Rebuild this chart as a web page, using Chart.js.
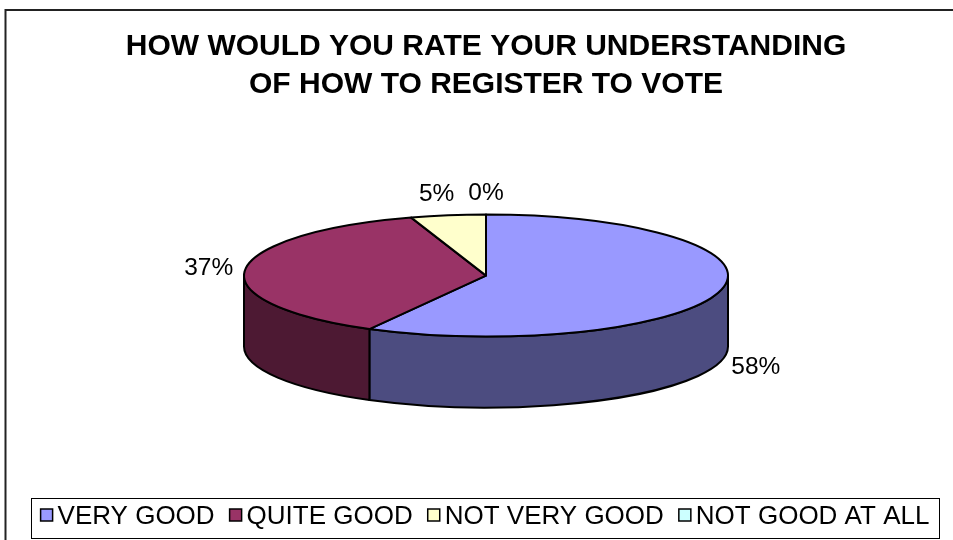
<!DOCTYPE html>
<html>
<head>
<meta charset="utf-8">
<script src="https://cdn.jsdelivr.net/npm/chart.js@4/dist/chart.umd.min.js"></script>
<style>
  html, body { margin: 0; padding: 0; background: #ffffff; }
  canvas { display: block; }
</style>
</head>
<body>
<canvas id="c" width="953" height="540"></canvas>
<script>
// ---- data ----
const titleLines = ['HOW WOULD YOU RATE YOUR UNDERSTANDING', 'OF HOW TO REGISTER TO VOTE'];
const categories = ['VERY GOOD', 'QUITE GOOD', 'NOT VERY GOOD', 'NOT GOOD AT ALL'];
const percentages = [58, 37, 5, 0];

// ---- styles ----
const topColors  = ['#9999FF', '#993366', '#FFFFCC', '#CCFFFF'];
const sideColors = ['#4C4C80', '#4D1933', '#80806A', '#668080'];
const FONT = '"Liberation Sans", Arial, Helvetica, sans-serif';
const TILT = 0.252;   // vertical squash of the pie top
const DEPTH = 71;     // thickness of the pie in px

const pie3d = {
  id: 'pie3d',
  beforeDraw(chart) {
    const ctx = chart.ctx;
    ctx.save();
    ctx.fillStyle = '#ffffff';
    ctx.fillRect(0, 0, chart.width, chart.height);
    ctx.strokeStyle = '#222';
    ctx.lineWidth = 2;
    ctx.strokeRect(5.5, 10, 1000, 600);
    ctx.restore();
  },
  beforeDatasetsDraw(chart) {
    const meta = chart.getDatasetMeta(0);
    const arcs = meta.data;
    const ctx = chart.ctx;
    const a0 = arcs[0];
    const cx = a0.x, rx = a0.outerRadius, ry = rx * TILT, depth = DEPTH;
    const cy = a0.y - depth / 2;
    ctx.save();
    ctx.lineWidth = 2;
    ctx.strokeStyle = '#000';
    ctx.lineJoin = 'round';
    // front walls
    arcs.forEach((arc, i) => {
      const s = arc.startAngle, e = arc.endAngle;
      if (e - s <= 1e-6) return;
      [[0, Math.PI], [2 * Math.PI, 3 * Math.PI]].forEach(([f0, f1]) => {
        const lo = Math.max(s, f0), hi = Math.min(e, f1);
        if (hi <= lo) return;
        ctx.beginPath();
        ctx.ellipse(cx, cy, rx, ry, 0, lo, hi);
        ctx.lineTo(cx + rx * Math.cos(hi), cy + depth + ry * Math.sin(hi));
        ctx.ellipse(cx, cy + depth, rx, ry, 0, hi, lo, true);
        ctx.closePath();
        ctx.fillStyle = sideColors[i];
        ctx.fill();
        ctx.stroke();
      });
    });
    // top faces
    arcs.forEach((arc, i) => {
      if (arc.endAngle - arc.startAngle <= 1e-6) return;
      ctx.beginPath();
      ctx.moveTo(cx, cy);
      ctx.ellipse(cx, cy, rx, ry, 0, arc.startAngle, arc.endAngle);
      ctx.closePath();
      ctx.fillStyle = arc.options.backgroundColor;
      ctx.fill();
      ctx.stroke();
    });
    // data labels
    const data = chart.data.datasets[0].data;
    const total = data.reduce((a, b) => a + b, 0);
    ctx.font = '24.5px ' + FONT;
    ctx.fillStyle = '#000';
    ctx.textAlign = 'center';
    ctx.textBaseline = 'middle';
    const lbls = arcs.map((arc, i) => {
      const m = (arc.startAngle + arc.endAngle) / 2;
      const c = Math.cos(m), s = Math.sin(m);
      const ay = s > 0 ? cy + depth + ry * s : cy + ry * s;
      const ax = cx + rx * c;
      const txt = Math.round(data[i] / total * 100) + '%';
      const w = ctx.measureText(txt).width, h = 17;
      return { txt, w, x: ax + c * (w / 2 + 12), y: ay + s * (h / 2 + 13) };
    });
    // keep neighbouring labels apart (push the earlier one outward)
    for (let i = lbls.length - 1; i > 0; i--) {
      const a = lbls[i - 1], b = lbls[i];
      if (Math.abs(a.y - b.y) < 20) {
        const gap = (b.x - b.w / 2) - (a.x + a.w / 2);
        if (gap >= 0 && gap < 14) a.x -= (14 - gap);
      }
    }
    lbls.forEach(l => ctx.fillText(l.txt, l.x, l.y));
    ctx.restore();
    return false;
  },
  afterDraw(chart) {
    const ctx = chart.ctx;
    ctx.save();
    // legend frame
    const fx = 31, fy = 498, fw = 908, fh = 40;
    ctx.strokeStyle = '#000';
    ctx.lineWidth = 1;
    ctx.strokeRect(fx + 0.5, fy + 0.5, fw, fh);
    ctx.font = '26px ' + FONT;
    ctx.textBaseline = 'middle';
    ctx.textAlign = 'left';
    const box = 12, gapBox = 5, gapItem = 15;
    const labels = chart.data.labels;
    const widths = labels.map(t => ctx.measureText(t).width);
    const total = widths.reduce((a, w) => a + box + gapBox + w, 0) + gapItem * (labels.length - 1);
    let x = fx + fw / 2 - total / 2;
    const yc = fy + fh / 2 - 3;
    labels.forEach((t, i) => {
      ctx.fillStyle = topColors[i];
      ctx.fillRect(x, yc - box / 2, box, box);
      ctx.lineWidth = 1.5;
      ctx.strokeStyle = '#000';
      ctx.strokeRect(x, yc - box / 2, box, box);
      ctx.fillStyle = '#000';
      ctx.fillText(t, x + box + gapBox, yc + 1.5);
      x += box + gapBox + widths[i] + gapItem;
    });
    ctx.restore();
  }
};

new Chart(document.getElementById('c'), {
  type: 'pie',
  data: {
    labels: categories,
    datasets: [{
      data: percentages,
      backgroundColor: topColors,
      borderColor: '#000',
      borderWidth: 2,
      radius: 242
    }]
  },
  options: {
    responsive: false,
    animation: false,
    devicePixelRatio: 1,
    events: [],
    layout: { padding: { left: 19, right: 0, top: 0, bottom: 32 } },
    plugins: {
      legend: { display: false },
      tooltip: { enabled: false },
      title: {
        display: true,
        text: titleLines,
        color: '#000',
        font: { family: FONT, size: 30, weight: 'bold', lineHeight: 1.27 },
        padding: { top: 28, bottom: 10 }
      }
    }
  },
  plugins: [pie3d]
});
</script>
</body>
</html>
